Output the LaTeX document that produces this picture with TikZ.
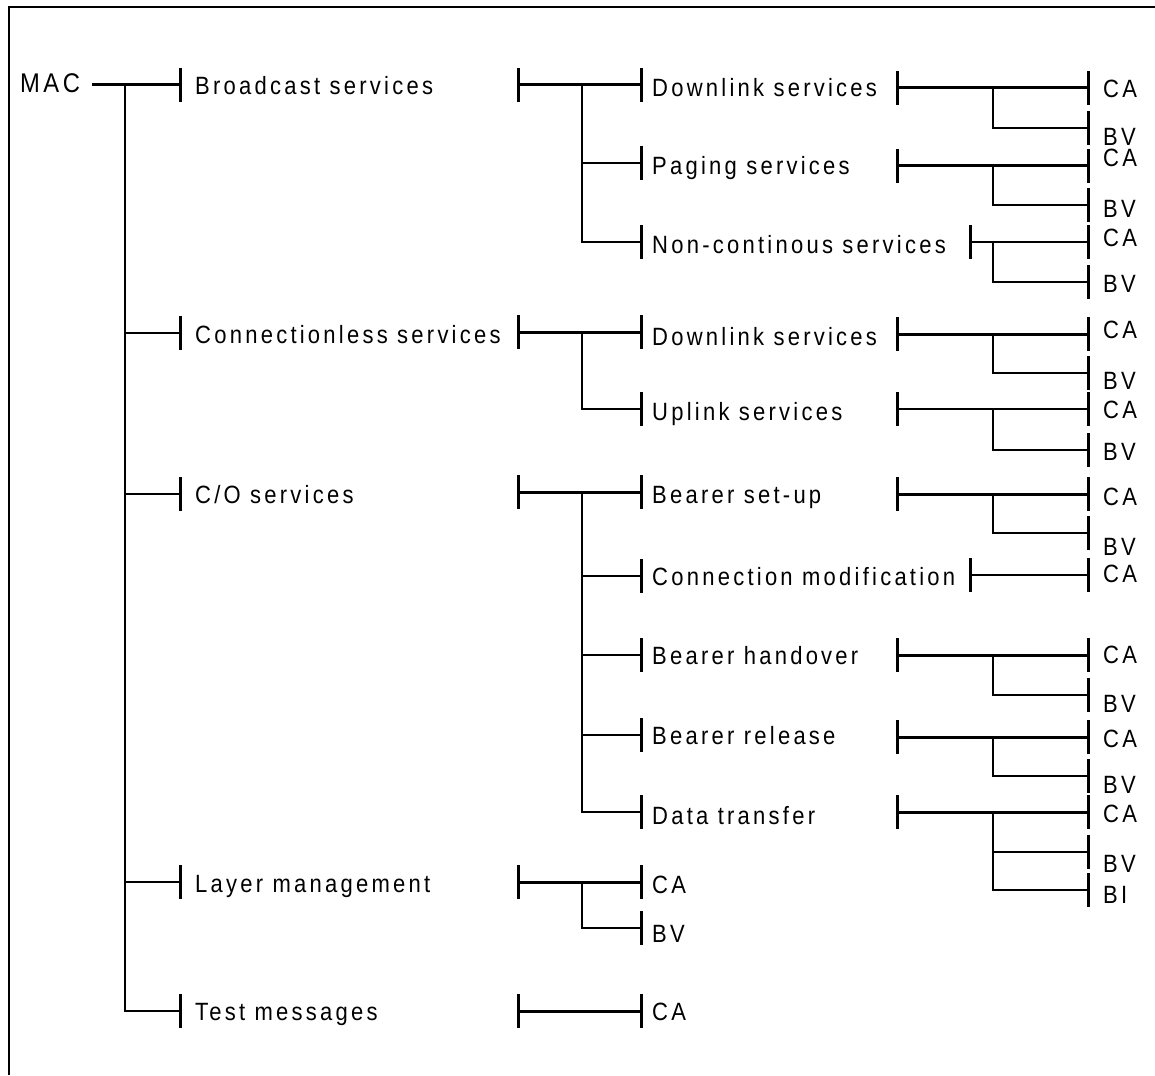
\documentclass[tikz,border=0pt]{standalone}
\usepackage{fontspec}
\setmainfont{Liberation Sans}[FakeStretch=0.88, LetterSpace=13]
\newcommand\tk[1]{\draw[tickln] ([yshift=17pt]#1) -- ([yshift=-17pt]#1);}
% id, x left, x trunk, x right, y, style, branch ys
\newcommand\brk[7]{%
  \coordinate (#1l) at (#2,#5);
  \coordinate (#1t) at (#3,#5);
  \coordinate (#1r) at (#4,#5);
  \draw[#6] (#1l) -- (#1r);
  \tk{#1l}\tk{#1r}
  \foreach \yy [count=\ii] in {#7}{%
    \coordinate (#1b\ii) at (#4,\yy);
    \draw[thinln] (#1t) |- (#1b\ii);
    \tk{#1b\ii}
  }%
}
\begin{document}
\begin{tikzpicture}[x=1pt,y=-1pt,
  lbl/.style={anchor=base west, inner sep=0pt, font=\fontsize{25}{25}\selectfont},
  leaf/.style={lbl, text height=17.5pt, text depth=0pt},
  mainln/.style={line width=3pt},
  thinln/.style={line width=1.8pt},
  tickln/.style={line width=3pt},
  frame/.style={line width=2pt}]
\useasboundingbox (0,0) rectangle (1155,1075);
\fill[white] (0,0) rectangle (1155,1075);
% frame
\coordinate (fbl) at (9,1075);
\coordinate (ftl) at (9,7);
\coordinate (ftr) at (1155,7);
\draw[frame] (fbl) -- (ftl) -- (ftr);

% level 0
\node[lbl, font=\fontsize{27}{27}\selectfont] (mac) at (20,93) {MAC};
\coordinate (m0) at (92,85);
\coordinate (mt) at (125,85);
\coordinate (mr) at (180,85);
\draw[mainln] (m0) -- (mr); \tk{mr}
\foreach \yy [count=\ii] in {333,494,882,1011}{%
  \coordinate (mb\ii) at (180,\yy);
  \draw[thinln] (mt) |- (mb\ii);
  \tk{mb\ii}
}
\node[lbl] (n1) at (195,95) {Broadcast services};
\node[lbl] (n2) at (195,343) {Connectionless services};
\node[lbl] (n3) at (195,503) {C/O services};
\node[lbl] (n4) at (195,892) {Layer management};
\node[lbl] (n5) at (195,1020) {Test messages};

% level 1 -> 2
\brk{bq}{518}{582}{641}{85}{mainln}{163,242}
\brk{cq}{518}{582}{641}{332}{mainln}{409}
\brk{oq}{518}{582}{641}{492}{mainln}{576,655,735,812}
\brk{lq}{518}{582}{641}{882}{mainln}{928}
\coordinate (tql) at (518,1011);
\coordinate (tqr) at (641,1011);
\draw[mainln] (tql) -- (tqr); \tk{tql}\tk{tqr}

\node[lbl] (s1) at (652,97) {Downlink services};
\node[lbl] (s2) at (652,175) {Paging services};
\node[lbl] (s3) at (652,253) {Non-continous services};
\node[lbl] (s4) at (652,345) {Downlink services};
\node[lbl] (s5) at (652,420) {Uplink services};
\node[lbl] (s6) at (652,503) {Bearer set-up};
\node[lbl] (s7) at (652,585) {Connection modification};
\node[lbl] (s8) at (652,664) {Bearer handover};
\node[lbl] (s9) at (652,744) {Bearer release};
\node[lbl] (s10) at (652,824) {Data transfer};
\node[leaf] (s11) at (652,893) {CA};
\node[leaf] (s12) at (652,942) {BV};
\node[leaf] (s13) at (652,1020) {CA};

% level 2 -> 3
\brk{ga}{897}{993}{1088}{88}{mainln}{128}
\brk{gb}{897}{993}{1088}{166}{mainln}{205}
\brk{gc}{970}{993}{1088}{242}{thinln}{282}
\brk{gd}{897}{993}{1088}{334}{mainln}{373}
\brk{ge}{897}{993}{1088}{409}{thinln}{450}
\brk{gf}{897}{993}{1088}{494}{mainln}{533}
\coordinate (ggl) at (970,575);
\coordinate (ggr) at (1088,575);
\draw[thinln] (ggl) -- (ggr); \tk{ggl}\tk{ggr}
\brk{gh}{897}{993}{1088}{655}{mainln}{695}
\brk{gi}{897}{993}{1088}{737}{mainln}{776}
\brk{gj}{897}{993}{1088}{812}{mainln}{852,890}

\node[leaf] (a1) at (1103,98) {CA};
\node[leaf] (a2) at (1103,146) {BV};
\node[leaf] (b1) at (1103,167) {CA};
\node[leaf] (b2) at (1103,218) {BV};
\node[leaf] (c1) at (1103,247) {CA};
\node[leaf] (c2) at (1103,292) {BV};
\node[leaf] (d1) at (1103,338) {CA};
\node[leaf] (d2) at (1103,389) {BV};
\node[leaf] (e1) at (1103,418) {CA};
\node[leaf] (e2) at (1103,460) {BV};
\node[leaf] (f1) at (1103,505) {CA};
\node[leaf] (f2) at (1103,555) {BV};
\node[leaf] (g1) at (1103,582) {CA};
\node[leaf] (h1) at (1103,663) {CA};
\node[leaf] (h2) at (1103,712) {BV};
\node[leaf] (i1) at (1103,747) {CA};
\node[leaf] (i2) at (1103,793) {BV};
\node[leaf] (j1) at (1103,822) {CA};
\node[leaf] (j2) at (1103,872) {BV};
\node[leaf] (j3) at (1103,903) {BI};
\end{tikzpicture}
\end{document}
